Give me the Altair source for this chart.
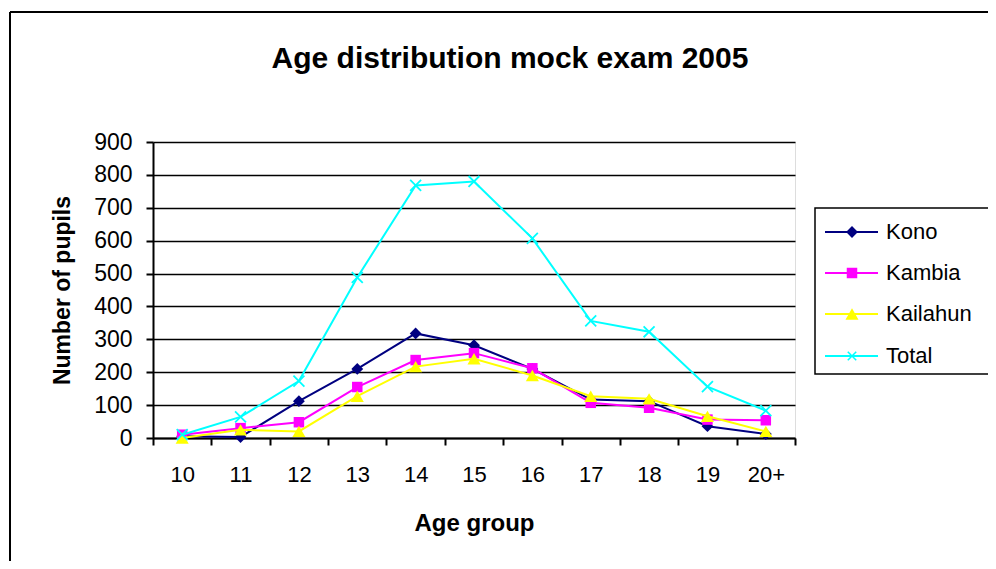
import altair as alt
import pandas as pd

ages = ["10", "11", "12", "13", "14", "15", "16", "17", "18", "19", "20+"]
series_names = ["Kono", "Kambia", "Kailahun", "Total"]
kono = [5, 3, 112, 210, 318, 282, 210, 117, 112, 36, 12]
kambia = [10, 30, 48, 155, 237, 258, 212, 107, 92, 56, 54]
kailahun = [0, 25, 20, 127, 217, 241, 190, 127, 119, 66, 20]
total = [10, 64, 173, 488, 768, 780, 607, 356, 323, 156, 83]
y_ticks = [0, 100, 200, 300, 400, 500, 600, 700, 800, 900]
chart_title = "Age distribution mock exam 2005"

colors = ["#000080", "#FF00FF", "#FFFF00", "#00FFFF"]
X_SHAPE = "M-1,-1L1,1M-1,1L1,-1"
shapes = ["diamond", "square", "triangle-up", X_SHAPE]
sizes = [140, 110, 170, 120]
values = [kono, kambia, kailahun, total]

FONT = "Liberation Sans"
W, H = 642, 296

x_enc = alt.X(
    "age:N",
    sort=ages,
    scale=alt.Scale(domain=ages, paddingInner=0, paddingOuter=0),
    axis=alt.Axis(
        title="Age group", tickBand="extent", labelAngle=0,
        labelFont=FONT, labelFontSize=22, labelColor="#000000", labelPadding=19,
        titleFont=FONT, titleFontSize=24, titleFontWeight="bold", titleColor="#000000",
        titleX=321, titleY=85, titleBaseline="middle",
        domainColor="#000000", domainWidth=2, tickColor="#000000", tickWidth=2,
        tickSize=7, grid=False,
    ),
)
y_enc = alt.Y(
    "value:Q",
    scale=alt.Scale(domain=[0, 900], nice=False, zero=True),
    axis=alt.Axis(
        title="Number of pupils", values=y_ticks,
        labelFont=FONT, labelFontSize=23, labelColor="#000000", labelPadding=14,
        titleFont=FONT, titleFontSize=23, titleFontWeight="bold", titleColor="#000000",
        titleX=-91, titleY=148, titleAngle=-90, titleAlign="center", titleBaseline="middle",
        domainColor="#000000", domainWidth=2, tickColor="#000000", tickWidth=2,
        tickSize=7, grid=True, gridColor="#000000", gridWidth=1.6,
    ),
)

layers = []
for name, vals, col, shp, sz in zip(series_names, values, colors, shapes, sizes):
    df = pd.DataFrame({"age": ages, "value": vals, "series": name})
    base = alt.Chart(df).encode(x=x_enc, y=y_enc)
    layers.append(base.mark_line(color=col, strokeWidth=2))
    if shp == X_SHAPE:
        layers.append(base.mark_point(shape=shp, size=sz, color=col, filled=False,
                                      strokeWidth=1.8, opacity=1))
    else:
        layers.append(base.mark_point(shape=shp, size=sz, color=col, filled=True, opacity=1))

# Legend (custom, Excel style)
dummy = pd.DataFrame({"d": [0]})
legend_box = alt.Chart(dummy).mark_rect(fill="#FFFFFF", stroke="#000000", strokeWidth=1.5).encode(
    x=alt.value(662), x2=alt.value(842), y=alt.value(66), y2=alt.value(232)
)
layers.append(legend_box)
entry_y = [90, 131, 172, 214]
for name, col, shp, sz, ey in zip(series_names, colors, shapes, sizes, entry_y):
    ldf = pd.DataFrame({"series": [name]})
    layers.append(alt.Chart(ldf).mark_rule(color=col, strokeWidth=2).encode(
        x=alt.value(672), x2=alt.value(725), y=alt.value(ey)))
    if shp == X_SHAPE:
        layers.append(alt.Chart(ldf).mark_point(shape=shp, size=sz * 0.6, color=col, filled=False,
                                                strokeWidth=1.5, opacity=1).encode(
            x=alt.value(699), y=alt.value(ey)))
    else:
        layers.append(alt.Chart(ldf).mark_point(shape=shp, size=sz, color=col, filled=True,
                                                opacity=1).encode(
            x=alt.value(699), y=alt.value(ey)))
    layers.append(alt.Chart(ldf).mark_text(align="left", baseline="middle", font=FONT,
                                           fontSize=22, color="#000000").encode(
        x=alt.value(733), y=alt.value(ey), text="series:N"))

# Chart title as text
tdf = pd.DataFrame({"t": [chart_title]})
layers.append(alt.Chart(tdf).mark_text(align="center", baseline="alphabetic", font=FONT,
                                       fontSize=30, fontWeight="bold", color="#000000").encode(
    x=alt.value(357), y=alt.value(-74), text="t:N"))

# Outer chart frame (left and top edges)
layers.append(alt.Chart(dummy).mark_rule(color="#000000", strokeWidth=2).encode(
    x=alt.value(-143), y=alt.value(-130), y2=alt.value(600)))
layers.append(alt.Chart(dummy).mark_rule(color="#000000", strokeWidth=2).encode(
    x=alt.value(-143), x2=alt.value(900), y=alt.value(-130)))

chart = alt.layer(*layers).properties(
    width=W, height=H,
    autosize=alt.AutoSizeParams(type="none"),
    padding={"left": 145, "top": 134, "right": 193, "bottom": 123},
).configure_view(
    fill="#C0C0C0", stroke="#808080", strokeWidth=2
).configure(background="#FFFFFF")

chart.save("out.html", embed_options={"renderer": "svg", "actions": False})
